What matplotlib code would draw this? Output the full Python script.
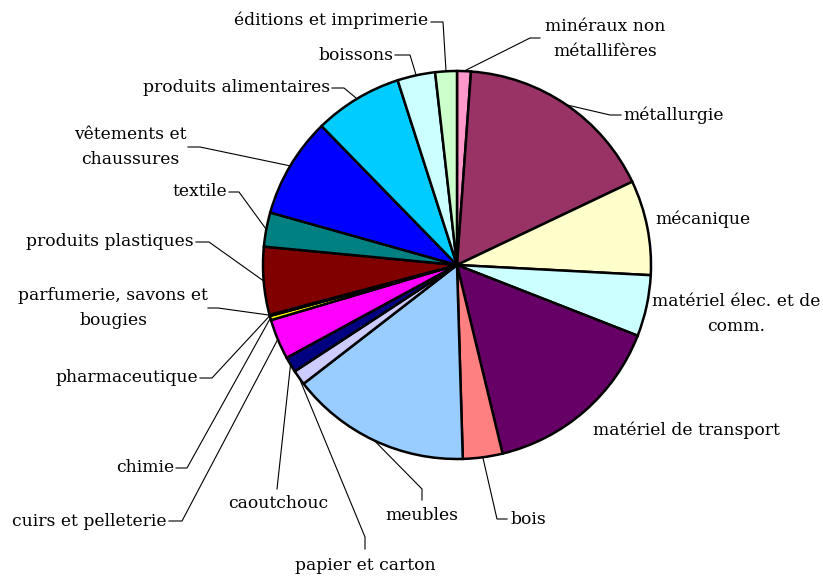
"""Pie chart of industrial branches with leader-line labels (Excel style)."""

import matplotlib

matplotlib.use("Agg")
import matplotlib.pyplot as plt
import numpy as np

W, H = 823, 576

# Branches, clockwise from 12 o'clock, and their share (%)
branches = [
    "minéraux non\nmétallifères",
    "métallurgie",
    "mécanique",
    "matériel élec. et de\ncomm.",
    "matériel de transport",
    "bois",
    "meubles",
    "papier et carton",
    "caoutchouc",
    "cuirs et pelleterie",
    "chimie",
    "pharmaceutique",
    "parfumerie, savons et\nbougies",
    "produits plastiques",
    "textile",
    "vêtements et\nchaussures",
    "produits alimentaires",
    "boissons",
    "éditions et imprimerie",
]
shares = [
    1.15, 16.8, 7.9, 5.1, 15.3, 3.3, 15.0, 1.25, 1.3, 3.35,
    0.35, 0.05, 0.05, 5.65, 2.85, 8.35, 7.35, 3.15, 1.8,
]
colors = [
    "#FF99CC", "#993366", "#FFFFCC", "#CCFFFF", "#660066", "#FF8080",
    "#99CCFF", "#CCCCFF", "#000080", "#FF00FF", "#FFFF00", "#00FFFF",
    "#800080", "#800000", "#008080", "#0000FF", "#00CCFF", "#CCFFFF",
    "#CCFFCC",
]

# Label layout in pixel coords (y from top): text x, text y, alignment,
# and the leader polyline start points (None = no leader line).
layout = {
    0: (605, 39, "center", [(540, 38), (530, 38)]),
    1: (623, 115, "left", [(621, 115), (610, 115)]),
    2: (655, 219, "left", None),
    3: (736, 314, "center", None),
    4: (593, 430, "left", None),
    5: (510, 519, "left", [(507, 519), (497, 519)]),
    6: (422, 516, "center", [(422, 500), (422, 489)]),
    7: (365, 565, "center", [(365, 549), (365, 537)]),
    8: (278, 503, "center", [(277, 489)]),
    9: (167, 521, "right", [(169, 521), (182, 521)]),
    10: (174, 468, "right", [(176, 468), (187, 468)]),
    11: (198, 378, "right", [(200, 378), (212, 378)]),
    12: (113, 308, "center", [(208, 308), (218, 308)]),
    13: (194, 242, "right", [(196, 242), (209, 242)]),
    14: (227, 192, "right", [(229, 192), (239, 192)]),
    15: (130, 147, "center", [(188, 147), (200, 147)]),
    16: (330, 88, "right", [(332, 88), (344, 88)]),
    17: (393, 55, "right", [(395, 55), (410, 55)]),
    18: (428, 20, "right", [(431, 22), (443, 22)]),
}

CX, CY, R = 457, 265, 194


def px(x, y):
    return x, H - y


fig = plt.figure(figsize=(W / 100, H / 100), dpi=100)
ax = fig.add_axes([0, 0, 1, 1])

wedges, _ = ax.pie(
    shares,
    colors=colors,
    startangle=90,
    counterclock=False,
    center=px(CX, CY),
    radius=R,
    wedgeprops=dict(edgecolor="black", linewidth=1.8),
)
ax.set_xlim(0, W)
ax.set_ylim(0, H)
ax.set_aspect("equal")
ax.axis("off")

for i, w in enumerate(wedges):
    tx, ty, ha, leader = layout[i]
    ax.text(*px(tx, ty), branches[i], ha=ha, va="center",
            family="DejaVu Serif", fontsize=12.3, color="black",
            multialignment="center", linespacing=1.65)
    if leader is None:
        continue
    mid = np.radians((w.theta1 + w.theta2) / 2)
    ex = w.center[0] + w.r * np.cos(mid)
    ey = w.center[1] + w.r * np.sin(mid)
    pts = [px(x, y) for x, y in leader] + [(ex, ey)]
    xs, ys = zip(*pts)
    ax.plot(xs, ys, color="black", linewidth=0.8, zorder=0.5)

fig.savefig("out.png", dpi=100)
